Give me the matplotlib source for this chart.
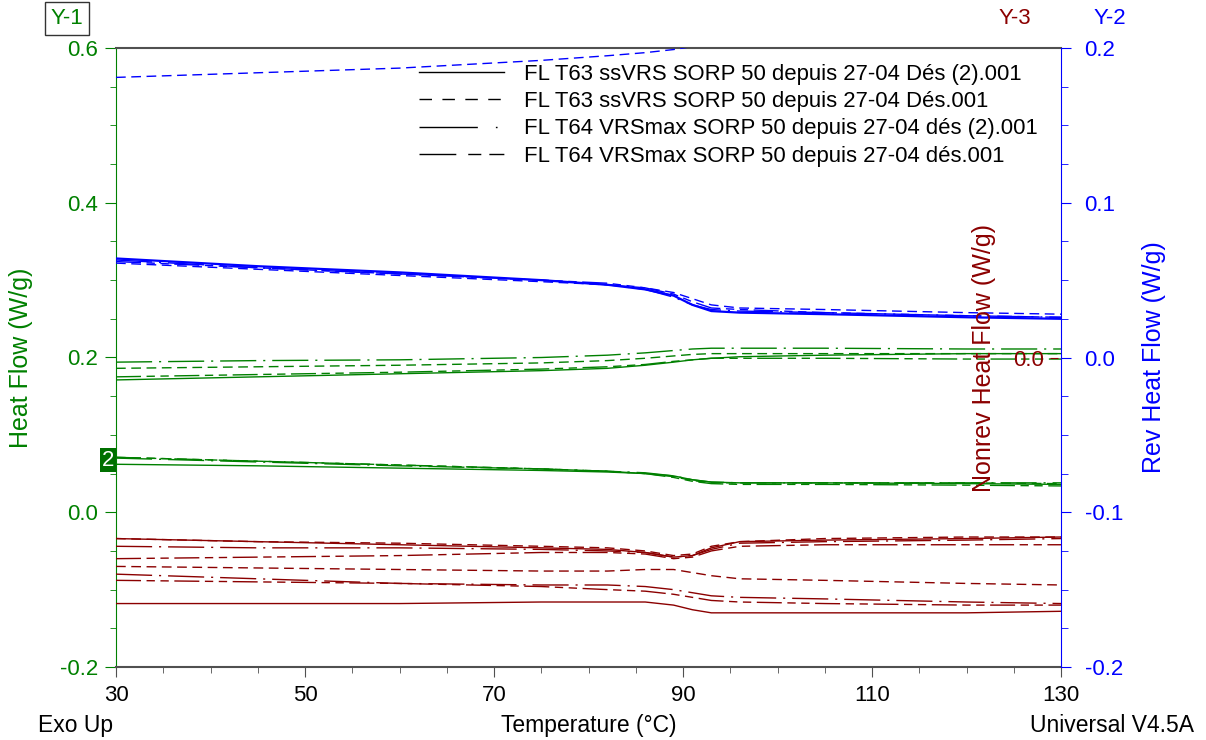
import matplotlib
matplotlib.use("Agg")
import matplotlib.pyplot as plt
from matplotlib.lines import Line2D
from matplotlib.ticker import MultipleLocator, FormatStrFormatter

plt.rcParams['font.family'] = ['Liberation Sans', 'DejaVu Sans']

GREEN = '#008000'
BLUE = '#0000ff'
RED = '#8b0000'
GREY = '#505050'

# temperature grid shared by all curves (deg C)
temps = [30, 45, 60, 75, 82, 86, 89, 91, 93, 96, 105, 120, 130]
x_ticks = [30, 50, 70, 90, 110, 130]

files = [
    'FL T63 ssVRS SORP 50 depuis 27-04 Dés (2).001',
    'FL T63 ssVRS SORP 50 depuis 27-04 Dés.001',
    'FL T64 VRSmax SORP 50 depuis 27-04 dés (2).001',
    'FL T64 VRSmax SORP 50 depuis 27-04 dés.001',
]

# Heat Flow (Y-1), upper group: one list per file
heat_flow_hi = [
    [0.171, 0.175, 0.179, 0.183, 0.186, 0.190, 0.194, 0.197, 0.199, 0.201, 0.203, 0.205, 0.205],
    [0.186, 0.188, 0.190, 0.193, 0.196, 0.199, 0.202, 0.204, 0.205, 0.205, 0.205, 0.205, 0.205],
    [0.194, 0.196, 0.197, 0.200, 0.203, 0.206, 0.209, 0.211, 0.212, 0.212, 0.212, 0.211, 0.211],
    [0.175, 0.178, 0.181, 0.185, 0.188, 0.191, 0.195, 0.197, 0.199, 0.199, 0.199, 0.198, 0.198],
]
# Heat Flow (Y-1), lower group
heat_flow_lo = [
    [0.062, 0.060, 0.057, 0.054, 0.052, 0.050, 0.047, 0.042, 0.039, 0.038, 0.038, 0.037, 0.036],
    [0.071, 0.066, 0.061, 0.056, 0.053, 0.050, 0.046, 0.041, 0.038, 0.038, 0.038, 0.038, 0.037],
    [0.070, 0.065, 0.060, 0.056, 0.053, 0.051, 0.047, 0.042, 0.039, 0.038, 0.038, 0.038, 0.038],
    [0.071, 0.066, 0.061, 0.056, 0.053, 0.050, 0.045, 0.040, 0.037, 0.036, 0.036, 0.035, 0.034],
]
# Rev Heat Flow (Y-2)
rev_flow = [
    [0.064, 0.059, 0.055, 0.050, 0.047, 0.044, 0.040, 0.034, 0.030, 0.029, 0.028, 0.026, 0.025],
    [0.061, 0.057, 0.053, 0.049, 0.047, 0.045, 0.042, 0.038, 0.034, 0.032, 0.031, 0.029, 0.028],
    [0.063, 0.058, 0.054, 0.050, 0.047, 0.044, 0.039, 0.034, 0.031, 0.030, 0.029, 0.027, 0.026],
    [0.062, 0.058, 0.054, 0.050, 0.048, 0.045, 0.041, 0.036, 0.032, 0.031, 0.029, 0.027, 0.026],
]
rev_flow_extra = [0.181, 0.184, 0.187, 0.192, 0.195, 0.197, 0.199, 0.201, 0.202, 0.204, 0.208, 0.214, 0.218]
# Nonrev Heat Flow (Y-3), upper group
nonrev_hi = [
    [-0.117, -0.119, -0.121, -0.123, -0.124, -0.126, -0.129, -0.128, -0.123, -0.119, -0.118, -0.117, -0.116],
    [-0.117, -0.119, -0.120, -0.122, -0.123, -0.125, -0.128, -0.127, -0.122, -0.119, -0.117, -0.116, -0.116],
    [-0.122, -0.123, -0.123, -0.124, -0.125, -0.126, -0.129, -0.128, -0.124, -0.120, -0.119, -0.118, -0.117],
    [-0.130, -0.129, -0.128, -0.126, -0.126, -0.127, -0.130, -0.129, -0.125, -0.122, -0.121, -0.121, -0.121],
]
# Nonrev Heat Flow (Y-3), lower group
nonrev_lo = [
    [-0.159, -0.159, -0.159, -0.158, -0.158, -0.158, -0.160, -0.163, -0.165, -0.165, -0.165, -0.165, -0.164],
    [-0.135, -0.136, -0.137, -0.138, -0.138, -0.137, -0.137, -0.139, -0.141, -0.143, -0.144, -0.146, -0.147],
    [-0.140, -0.143, -0.146, -0.147, -0.147, -0.148, -0.150, -0.152, -0.154, -0.155, -0.156, -0.158, -0.159],
    [-0.144, -0.145, -0.146, -0.148, -0.150, -0.151, -0.153, -0.155, -0.157, -0.158, -0.159, -0.160, -0.160],
]

styles = ['-', (0, (7, 4)), (0, (26, 5, 1.5, 5)), (0, (18, 4, 6, 4, 6, 4))]
# legend dash patterns in points (1 pt = 1.39 px here)
legend_styles = ['-', (0, (9, 7.5)), (0, (42, 13, 1.2, 22)), (0, (26.5, 8.6, 9.4, 5.8, 10.8, 14.4))]

fig = plt.figure(figsize=(12.06, 7.40), dpi=100)
ax = fig.add_axes([116 / 1206, 1 - 667 / 740, 945 / 1206, 619 / 740])
ax2 = ax.twinx()
ax3 = ax.twinx()

for i in range(4):
    ax.plot(temps, heat_flow_hi[i], color=GREEN, lw=1.0, ls=styles[i])
    ax.plot(temps, heat_flow_lo[i], color=GREEN, lw=1.0, ls=styles[i])
    ax2.plot(temps, rev_flow[i], color=BLUE, lw=1.6 if i == 0 else 1.0, ls=styles[i])
    ax3.plot(temps, nonrev_hi[i], color=RED, lw=1.0, ls=styles[i])
    ax3.plot(temps, nonrev_lo[i], color=RED, lw=1.0, ls=styles[i])
ax2.plot(temps, rev_flow_extra, color=BLUE, lw=1.0, ls=styles[1])

# Y-1
ax.set_xlim(30, 130)
ax.set_ylim(-0.2, 0.6)
ax.set_xticks(x_ticks)
ax.xaxis.set_minor_locator(MultipleLocator(5))
ax.yaxis.set_major_locator(MultipleLocator(0.2))
ax.yaxis.set_minor_locator(MultipleLocator(0.05))
ax.yaxis.set_major_formatter(FormatStrFormatter('%.1f'))
ax.tick_params(axis='y', which='major', colors=GREEN, length=8, labelsize=16, pad=5)
ax.tick_params(axis='y', which='minor', colors=GREEN, length=4)
ax.tick_params(axis='x', which='major', colors=GREY, labelcolor='black', length=7, labelsize=16, pad=6)
ax.tick_params(axis='x', which='minor', colors=GREY, length=4)
ax.spines['left'].set_color(GREEN)
ax.spines['right'].set_visible(False)
ax.spines['top'].set_color(GREY)
ax.spines['bottom'].set_color(GREY)
ax.spines['top'].set_linewidth(1.5)
ax.spines['bottom'].set_linewidth(1.5)
ax.set_ylabel('Heat Flow (W/g)', color=GREEN, fontsize=18)
ax.yaxis.set_label_coords(-0.088, 0.5)
ax.set_xlabel('Temperature (°C)', fontsize=16.5, va='baseline')
ax.xaxis.set_label_coords(0.5, -(732 - 667) / 619)

# Y-2
ax2.set_ylim(-0.2, 0.2)
ax2.yaxis.set_major_locator(MultipleLocator(0.1))
ax2.yaxis.set_minor_locator(MultipleLocator(0.025))
ax2.yaxis.set_major_formatter(FormatStrFormatter('%.1f'))
ax2.tick_params(axis='y', which='major', colors=BLUE, length=7, labelsize=16, pad=10)
ax2.tick_params(axis='y', which='minor', colors=BLUE, length=5)
for s in ['left', 'top', 'bottom']:
    ax2.spines[s].set_visible(False)
ax2.spines['right'].set_color(BLUE)
ax2.set_ylabel('Rev Heat Flow (W/g)', color=BLUE, fontsize=18)
ax2.yaxis.set_label_coords(1.086, 0.5)

# Y-3 (drawn inside the plot, near the right edge)
ax3.set_ylim(-0.2, 0.2)
ax3.yaxis.set_ticks_position('left')
ax3.yaxis.set_label_position('left')
ax3.spines['left'].set_position(('axes', 0.9965))
for s in ax3.spines.values():
    s.set_visible(False)
ax3.set_yticks([0.0])
ax3.yaxis.set_major_formatter(FormatStrFormatter('%.1f'))
ax3.tick_params(axis='y', colors=RED, length=6, labelsize=16, pad=4)
ax3.set_ylabel('Nonrev Heat Flow (W/g)', color=RED, fontsize=18)
ax3.yaxis.set_label_coords(0.931, 0.5)

handles = [Line2D([], [], color='black', lw=1.0, ls=s) for s in legend_styles]
fig.legend(handles, files, loc='upper left', bbox_to_anchor=(419 / 1206, 1 - 64 / 740),
           frameon=False, fontsize=15.9, handlelength=3.85, handletextpad=0.9,
           labelspacing=0.28, borderpad=0, borderaxespad=0)

fig.text(67 / 1206, 1 - 18.5 / 740, 'Y-1', color=GREEN, fontsize=16, ha='center', va='center',
         bbox=dict(boxstyle='square,pad=0.27', facecolor='white', edgecolor='#333333', lw=1))
fig.text(1015 / 1206, 1 - 18 / 740, 'Y-3', color=RED, fontsize=16, ha='center', va='center')
fig.text(1110 / 1206, 1 - 18 / 740, 'Y-2', color=BLUE, fontsize=16, ha='center', va='center')
fig.text(108 / 1206, 1 - 460 / 740, '2', color='white', fontsize=16, ha='center', va='center',
         bbox=dict(boxstyle='square,pad=0.08', facecolor='#007000', edgecolor='none'))
fig.text(38 / 1206, 1 - 732 / 740, 'Exo Up', fontsize=16.5, ha='left', va='baseline')
fig.text(1194 / 1206, 1 - 732 / 740, 'Universal V4.5A', fontsize=16.5, ha='right', va='baseline')

fig.savefig('out.png', dpi=100)
